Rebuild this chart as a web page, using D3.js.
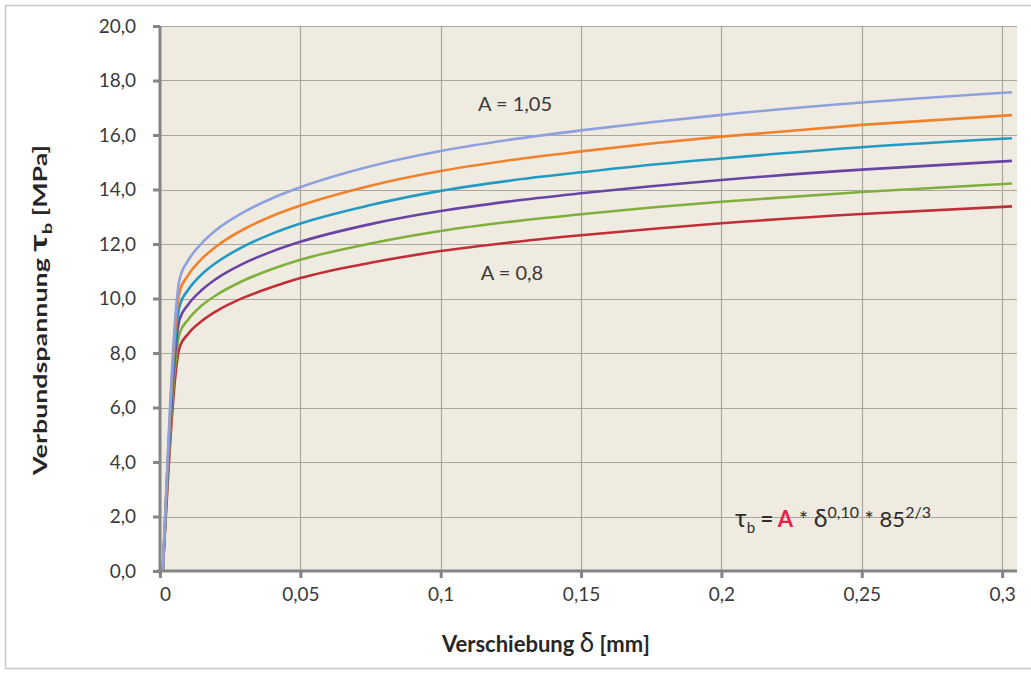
<!DOCTYPE html>
<html>
<head>
<meta charset="utf-8">
<script src="https://cdn.jsdelivr.net/npm/d3@7"></script>
<style>
  html, body { margin: 0; padding: 0; background: #ffffff; }
  svg { display: block; }
  text { font-family: Lato, "Open Sans", "Noto Sans", sans-serif; }
</style>
</head>
<body>
<svg id="chart" width="1031" height="676"></svg>
<script>
// ---- data ----
const delta = [0.001, 0.007, 0.01, 0.015, 0.02, 0.03, 0.04, 0.05, 0.075, 0.1, 0.125, 0.15, 0.175, 0.2, 0.25, 0.3035];
const seriesNames = ["A = 0,8", "A = 0,85", "A = 0,9", "A = 0,95", "A = 1,0", "A = 1,05"];
const tauA080 = [0, 8.22, 8.70, 9.18, 9.53, 10.04, 10.42, 10.75, 11.31, 11.74, 12.06, 12.32, 12.55, 12.76, 13.10, 13.38];
const tauA085 = [0, 8.73, 9.22, 9.75, 10.12, 10.67, 11.08, 11.42, 12.02, 12.48, 12.82, 13.09, 13.34, 13.55, 13.91, 14.22];
const tauA090 = [0, 9.24, 9.77, 10.32, 10.72, 11.30, 11.73, 12.08, 12.73, 13.21, 13.57, 13.86, 14.12, 14.35, 14.73, 15.05];
const tauA095 = [0, 9.74, 10.31, 10.90, 11.31, 11.92, 12.38, 12.75, 13.43, 13.95, 14.33, 14.63, 14.91, 15.14, 15.55, 15.88];
const tauA100 = [0, 10.25, 10.85, 11.47, 11.91, 12.55, 13.03, 13.41, 14.14, 14.68, 15.08, 15.40, 15.69, 15.94, 16.37, 16.73];
const tauA105 = [0, 10.72, 11.39, 12.04, 12.51, 13.18, 13.68, 14.08, 14.85, 15.41, 15.83, 16.17, 16.47, 16.74, 17.19, 17.57];
const seriesColors = ["#be2f38", "#80b03c", "#6a44a4", "#229ac2", "#f0822c", "#8ea1de"];
const xTicks = [0, 0.05, 0.1, 0.15, 0.2, 0.25, 0.3];
const xTickLabels = ["0", "0,05", "0,1", "0,15", "0,2", "0,25", "0,3"];
const yTicks = [0, 2, 4, 6, 8, 10, 12, 14, 16, 18, 20];
const yTickLabels = ["0,0", "2,0", "4,0", "6,0", "8,0", "10,0", "12,0", "14,0", "16,0", "18,0", "20,0"];

const allSeries = [tauA080, tauA085, tauA090, tauA095, tauA100, tauA105];

(function () {
// ---- layout ----
const svg = d3.select("#chart");
const pL = 160, pR = 1017, pT = 26, pB = 571;
const x = d3.scaleLinear().domain([0, 0.3053]).range([pL, pR]);
const y = d3.scaleLinear().domain([0, 20]).range([pB, pT]);

// chart border
svg.append("rect").attr("x", 5.5).attr("y", 5.5).attr("width", 1040).attr("height", 663)
  .attr("fill", "#ffffff").attr("stroke", "#c8c8c8").attr("stroke-width", 1.5);

// plot area
svg.append("rect").attr("x", pL).attr("y", pT).attr("width", pR - pL).attr("height", pB - pT)
  .attr("fill", "#efebe1");

// gridlines
svg.append("g").selectAll("line").data(yTicks.slice(1)).join("line")
  .attr("x1", pL).attr("x2", pR)
  .attr("y1", d => Math.round(y(d)) + 0.5).attr("y2", d => Math.round(y(d)) + 0.5)
  .attr("stroke", "#aaa69e").attr("stroke-width", 1.2);
svg.append("g").selectAll("line").data(xTicks.slice(1)).join("line")
  .attr("y1", pT).attr("y2", pB)
  .attr("x1", d => Math.round(x(d)) + 0.5).attr("x2", d => Math.round(x(d)) + 0.5)
  .attr("stroke", "#aaa69e").attr("stroke-width", 1.2);

// series lines
const line = d3.line().x((d, i) => x(delta[i])).y(d => y(d)).curve(d3.curveMonotoneX);
svg.append("g").selectAll("path").data(allSeries).join("path")
  .attr("d", d => line(d))
  .attr("fill", "none")
  .attr("stroke", (d, i) => seriesColors[i])
  .attr("stroke-width", 2.6)
  .attr("stroke-linejoin", "round");

// axes
const xAxis = d3.axisBottom(x).tickValues(xTicks).tickFormat((d, i) => xTickLabels[i]).tickSize(7).tickSizeOuter(0);
const gx = svg.append("g").attr("transform", `translate(0,${pB})`).call(xAxis);
gx.select(".domain").attr("stroke", "#858585").attr("stroke-width", 3).attr("d", `M${pL - 3},0H${pR}`);
gx.selectAll(".tick line").attr("stroke", "#858585").attr("stroke-width", 3);
gx.selectAll(".tick text").attr("fill", "#3a3a3a").attr("font-size", 19).attr("y", 17).attr("dy", "0.71em")
  .attr("dx", (d, i) => i === 0 ? 5 : 0);

const yAxis = d3.axisLeft(y).tickValues(yTicks).tickFormat((d, i) => yTickLabels[i]).tickSize(7).tickSizeOuter(0);
const gy = svg.append("g").attr("transform", `translate(${pL},0)`).call(yAxis);
gy.select(".domain").attr("stroke", "#858585").attr("stroke-width", 3).attr("d", `M0,${pT}V${pB + 3}`);
gy.selectAll(".tick line").attr("stroke", "#858585").attr("stroke-width", 3);
gy.selectAll(".tick text").attr("fill", "#3a3a3a").attr("font-size", 19).attr("x", -24);

// axis titles
const xt = svg.append("text").attr("x", 546).attr("y", 652).attr("text-anchor", "middle")
  .attr("font-size", 22).attr("font-weight", "bold").attr("fill", "#262626");
xt.append("tspan").text("Verschiebung ");
xt.append("tspan").attr("font-size", 26).attr("font-weight", "normal").text("δ");
xt.append("tspan").text(" [mm]");

const yt = svg.append("text").attr("transform", "translate(47,310) rotate(-90) scale(1.45,1)").attr("text-anchor", "middle")
  .attr("font-size", 18.5).attr("font-weight", "bold").attr("fill", "#262626");
yt.append("tspan").text("Verbundspannung ");
yt.append("tspan").attr("font-size", 25).text("τ");
yt.append("tspan").attr("font-size", 14).attr("dy", 5).text("b");
yt.append("tspan").attr("dy", -5).text(" [MPa]");

// annotations
svg.append("text").attr("x", 515).attr("y", 111).attr("text-anchor", "middle")
  .attr("font-size", 20).attr("fill", "#3a3a3a").text(seriesNames[5]);
svg.append("text").attr("x", 512).attr("y", 280).attr("text-anchor", "middle")
  .attr("font-size", 20).attr("fill", "#3a3a3a").text(seriesNames[0]);

// formula
const f = svg.append("text").attr("x", 735).attr("y", 527).attr("font-size", 22).attr("fill", "#2e2e2e");
f.append("tspan").attr("font-size", 25).text("τ");
f.append("tspan").attr("font-size", 15).attr("dy", 6).text("b");
f.append("tspan").attr("dy", -6).attr("font-weight", "bold").text(" = ");
f.append("tspan").attr("font-weight", "bold").attr("fill", "#e8234a").text("A");
f.append("tspan").text(" * ");
f.append("tspan").attr("font-size", 25).text("δ");
f.append("tspan").attr("font-size", 16).attr("dy", -9).text("0,10");
f.append("tspan").attr("dy", 9).text(" * 85");
f.append("tspan").attr("font-size", 16).attr("dy", -9).text("2/3");
})();
</script>
</body>
</html>
